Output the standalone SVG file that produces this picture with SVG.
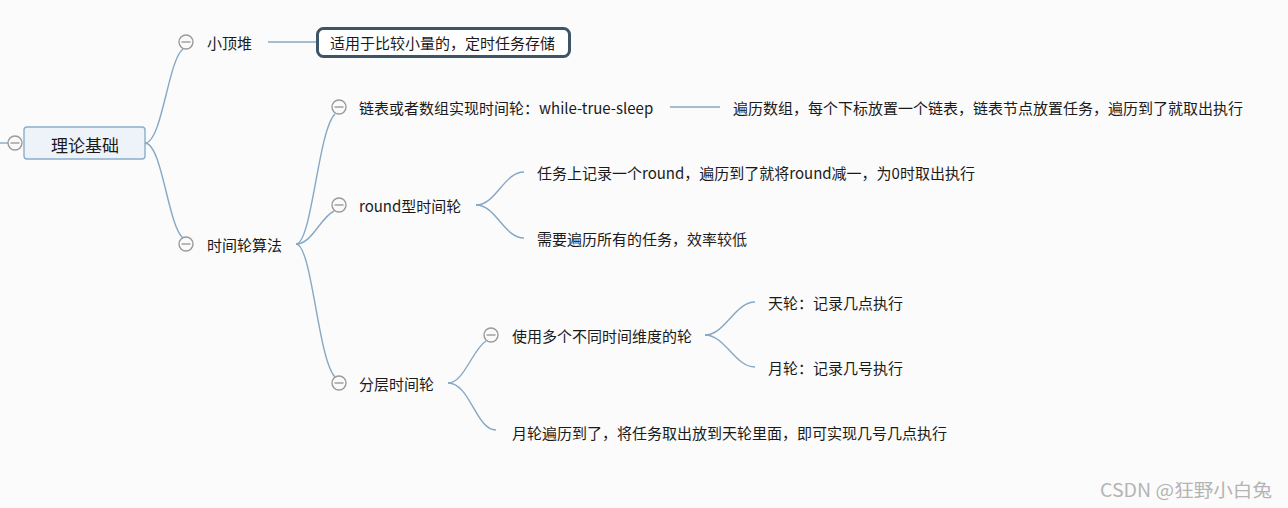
<svg xmlns="http://www.w3.org/2000/svg" width="1288" height="508" viewBox="0 0 1288 508">
<defs>
<style>
.t{font-family:"Microsoft YaHei","Noto Sans CJK SC","Noto Sans",sans-serif;font-size:15px;fill:#1a1a1a;dominant-baseline:central}
.c{fill:none;stroke:#86a8c5;stroke-width:1.4}
.tg circle{fill:#fafafa;stroke:#9a9a9a;stroke-width:1.4}
.tg line{stroke:#9a9a9a;stroke-width:1.4}
</style>
<g id="tog" class="tg"><circle cx="0" cy="0" r="7"/><line x1="-4.5" y1="0" x2="4.5" y2="0"/></g>
</defs>
<rect width="1288" height="508" fill="#fbfbfb"/>
<g id="connectors">
<path class="c" d="M0,143 H8"/>
<path class="c" d="M145,143 C162,143 168,60 183,49"/>
<path class="c" d="M145,143 C162,143 168,226 183,238"/>
<path class="c" d="M268,42 H317"/>
<path class="c" d="M296,244 C312,244 318,130 335,114"/>
<path class="c" d="M296,244 C312,244 320,218 334,211"/>
<path class="c" d="M296,244 C312,244 318,360 335,377"/>
<path class="c" d="M670,107 H720"/>
<path class="c" d="M476,205 C496,205 504,172 524,172"/>
<path class="c" d="M476,205 C496,205 504,238 524,238"/>
<path class="c" d="M448,383 C464,383 472,350 486,341"/>
<path class="c" d="M448,383 C470,383 476,430 496,430"/>
<path class="c" d="M705,335 C725,335 735,302 755,302"/>
<path class="c" d="M705,335 C725,335 735,367 755,367"/>
</g>
<g id="root">
<use href="#tog" x="15" y="143"/>
<rect x="24" y="127" width="121" height="32" rx="3" fill="#edf3f8" stroke="#8aaecb" stroke-width="1.4"/>
<text class="t" x="85" y="144" text-anchor="middle" style="font-size:17px">理论基础</text>
</g>
<g id="n-xiaodingdui">
<use href="#tog" x="186" y="42"/>
<text class="t" x="207" y="42">小顶堆</text>
</g>
<g id="n-xiaodingdui-note">
<rect x="317.5" y="28.5" width="252" height="28" rx="6" fill="#ffffff" stroke="#3e5467" stroke-width="3"/>
<text class="t" x="330" y="42">适用于比较小量的，定时任务存储</text>
</g>
<g id="n-shijianlun">
<use href="#tog" x="186" y="244"/>
<text class="t" x="207" y="244">时间轮算法</text>
</g>
<g id="n-lianbiao">
<use href="#tog" x="339" y="107"/>
<text class="t" x="359" y="107">链表或者数组实现时间轮：while-true-sleep</text>
</g>
<g id="n-lianbiao-desc">
<text class="t" x="733" y="107">遍历数组，每个下标放置一个链表，链表节点放置任务，遍历到了就取出执行</text>
</g>
<g id="n-round">
<use href="#tog" x="339" y="205"/>
<text class="t" x="359" y="205">round型时间轮</text>
</g>
<g id="n-round-1">
<text class="t" x="537" y="172">任务上记录一个round，遍历到了就将round减一，为0时取出执行</text>
</g>
<g id="n-round-2">
<text class="t" x="537" y="238">需要遍历所有的任务，效率较低</text>
</g>
<g id="n-fenceng">
<use href="#tog" x="339" y="383"/>
<text class="t" x="359" y="383">分层时间轮</text>
</g>
<g id="n-duoge">
<use href="#tog" x="491" y="335"/>
<text class="t" x="512" y="335">使用多个不同时间维度的轮</text>
</g>
<g id="n-tianlun">
<text class="t" x="768" y="302">天轮：记录几点执行</text>
</g>
<g id="n-yuelun">
<text class="t" x="768" y="367">月轮：记录几号执行</text>
</g>
<g id="n-bianli">
<text class="t" x="512" y="432">月轮遍历到了，将任务取出放到天轮里面，即可实现几号几点执行</text>
</g>
<text x="1100" y="497" textLength="172" lengthAdjust="spacingAndGlyphs" style="font-family:'Microsoft YaHei','Noto Sans CJK SC',sans-serif;font-size:18px;fill:#b4b4b4">CSDN @狂野小白兔</text>
</svg>
